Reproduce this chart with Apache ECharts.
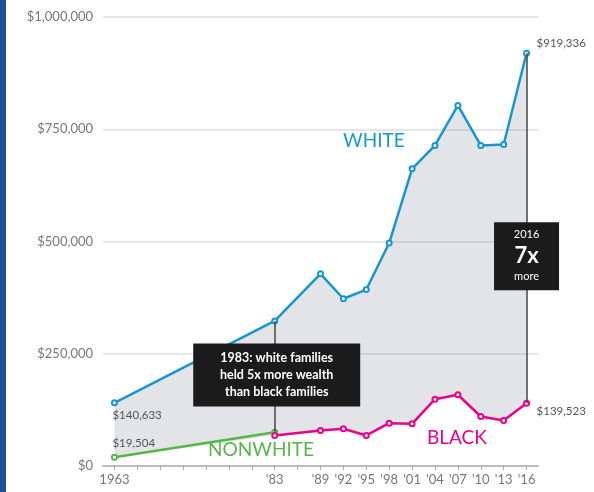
<!DOCTYPE html>
<html>
<head>
<meta charset="utf-8">
<script src="https://cdn.jsdelivr.net/npm/echarts@6/dist/echarts.min.js"></script>
<style>
  html, body { margin: 0; padding: 0; background: #fff; }
  #chart { width: 594px; height: 492px; }
</style>
</head>
<body>
<div id="chart"></div>
<script>
// x slots as spaced in the original (1963 and 1983 sit 7 slots apart)
const slots = ['1963', '', '', '', '', '', '', '1983', '1986', '1989', '1992', '1995', '1998', '2001', '2004', '2007', '2010', '2013', '2016'];
const tickLabels = ['1963', '', '', '', '', '', '', "'83", '', "'89", "'92", "'95", "'98", "'01", "'04", "'07", "'10", "'13", "'16"];

const whiteYears = ['1963', '1983', '1989', '1992', '1995', '1998', '2001', '2004', '2007', '2010', '2013', '2016'];
const whiteValues = [140633, 323000, 428000, 372500, 393000, 496500, 662000, 714000, 803000, 714000, 716000, 919336];

const nonwhiteYears = ['1963', '1983'];
const nonwhiteValues = [19504, 75000];

const blackYears = ['1983', '1989', '1992', '1995', '1998', '2001', '2004', '2007', '2010', '2013', '2016'];
const blackValues = [68000, 79100, 82900, 68000, 95400, 94000, 148800, 158700, 110300, 101400, 139523];

const yTicks = [0, 250000, 500000, 750000, 1000000];

const BLUE = '#1696d2';
const PINK = '#ec008b';
const GREEN = '#55b748';

const idx = y => slots.indexOf(y);
const pairs = (years, vals) => years.map((y, i) => [idx(y), vals[i]]);
const money = v => '$' + v.toLocaleString('en-US');

// lower edge of the grey gap band
const lowerAt = y => {
  const vals = [];
  if (nonwhiteYears.includes(y)) vals.push(nonwhiteValues[nonwhiteYears.indexOf(y)]);
  if (blackYears.includes(y)) vals.push(blackValues[blackYears.indexOf(y)]);
  return Math.min(...vals);
};
const baseData = whiteYears.map(y => [idx(y), lowerAt(y)]);
const gapData = whiteYears.map((y, i) => [idx(y), whiteValues[i] - lowerAt(y)]);

const last = arr => arr[arr.length - 1];
const i1983w = whiteYears.indexOf('1983');
const i1983n = nonwhiteYears.indexOf('1983');

const chart = echarts.init(document.getElementById('chart'));

const lineSeries = (name, data, color) => ({
  name: name,
  type: 'line',
  data: data,
  symbol: 'emptyCircle',
  symbolSize: 5,
  lineStyle: { color: color, width: 2.5 },
  itemStyle: { color: color, borderWidth: 1.5 },
  z: 4
});

const option = {
  animation: false,
  textStyle: { fontFamily: 'Lato' },
  grid: { left: 103, right: 56, top: 17, bottom: 26 },
  xAxis: {
    type: 'category',
    data: slots,
    boundaryGap: true,
    axisLine: { lineStyle: { color: '#bdbdbd', width: 2 } },
    axisTick: { show: true, alignWithLabel: true, interval: 0, length: 4, lineStyle: { color: '#aaa' } },
    axisLabel: {
      interval: 0,
      color: '#777',
      fontSize: 13,
      margin: 7,
      formatter: (v, i) => tickLabels[i]
    },
    z: 3
  },
  yAxis: {
    type: 'value',
    min: yTicks[0],
    max: last(yTicks),
    interval: yTicks[1] - yTicks[0],
    axisLine: { show: false },
    axisTick: { show: false },
    axisLabel: { color: '#777', fontSize: 13, margin: 10, formatter: v => money(v) },
    splitLine: { lineStyle: { color: '#e6e6e6', width: 2 } }
  },
  series: [
    {
      type: 'line',
      stack: 'gap',
      data: baseData,
      symbol: 'none',
      lineStyle: { opacity: 0 },
      silent: true,
      z: 1
    },
    {
      type: 'line',
      stack: 'gap',
      data: gapData,
      symbol: 'none',
      lineStyle: { opacity: 0 },
      areaStyle: { color: 'rgba(115,120,135,0.2)', opacity: 1 },
      silent: true,
      z: 1,
      markLine: {
        silent: true,
        symbol: 'none',
        label: { show: false },
        lineStyle: { color: '#444', width: 1.5, type: 'solid' },
        data: [
          [{ coord: [idx('1983'), whiteValues[i1983w]] }, { coord: [idx('1983'), nonwhiteValues[i1983n]] }],
          [{ coord: [idx('2016'), last(whiteValues)] }, { coord: [idx('2016'), last(blackValues)] }]
        ]
      }
    },
    lineSeries('Nonwhite', pairs(nonwhiteYears, nonwhiteValues), GREEN),
    lineSeries('Black', pairs(blackYears, blackValues), PINK),
    Object.assign(lineSeries('White', pairs(whiteYears, whiteValues), BLUE), {
      markPoint: {
        silent: true,
        symbol: 'circle',
        symbolSize: 1,
        itemStyle: { color: 'rgba(0,0,0,0)' },
        z: 10,
        label: { show: true, position: 'inside', color: '#555', fontSize: 11.5, align: 'left' },
        data: [
          { coord: [idx('1963'), whiteValues[0]], value: whiteValues[0], label: { offset: [-2, 12], formatter: p => money(p.value) } },
          { coord: [idx('1963'), nonwhiteValues[0]], value: nonwhiteValues[0], label: { offset: [-2, -14], formatter: p => money(p.value) } },
          { coord: [idx('2016'), last(whiteValues)], value: last(whiteValues), label: { offset: [10, -10], formatter: p => money(p.value) } },
          { coord: [idx('2016'), last(blackValues)], value: last(blackValues), label: { offset: [10, 8], formatter: p => money(p.value) } },
          {
            coord: [idx('1983'), whiteValues[i1983w]],
            label: {
              offset: [2, 54],
              align: 'center',
              verticalAlign: 'middle',
              backgroundColor: '#1b1b1b',
              color: '#fff',
              fontSize: 12.5,
              fontWeight: 'bold',
              lineHeight: 17,
              padding: [6, 11],
              width: 145,
              formatter: '1983: white families\nheld 5x more wealth\nthan black families'
            }
          },
          {
            coord: [idx('2016'), last(whiteValues)],
            label: {
              offset: [0, 203],
              align: 'center',
              verticalAlign: 'middle',
              backgroundColor: '#1b1b1b',
              color: '#fff',
              padding: [4, 10, 5, 10],
              width: 45,
              formatter: '{a|2016}\n{b|7x}\n{a|more}',
              rich: {
                a: { color: '#fff', fontSize: 11, lineHeight: 17, align: 'center' },
                b: { color: '#fff', fontSize: 22, fontWeight: 'bold', lineHeight: 25, align: 'center' }
              }
            }
          }
        ]
      }
    })
  ],
  graphic: [
    { type: 'rect', left: 0, top: 0, shape: { width: 6, height: 492 }, style: { fill: '#1e4f9d' }, z: 20 },
    { type: 'text', left: 343, top: 131, style: { text: 'WHITE', fill: BLUE, font: '19px Lato' }, z: 20 },
    { type: 'text', left: 427, top: 428, style: { text: 'BLACK', fill: PINK, font: '19px Lato' }, z: 20 },
    { type: 'text', left: 208, top: 440, style: { text: 'NONWHITE', fill: GREEN, font: '19px Lato' }, z: 20 }
  ]
};

chart.setOption(option);
</script>
</body>
</html>
